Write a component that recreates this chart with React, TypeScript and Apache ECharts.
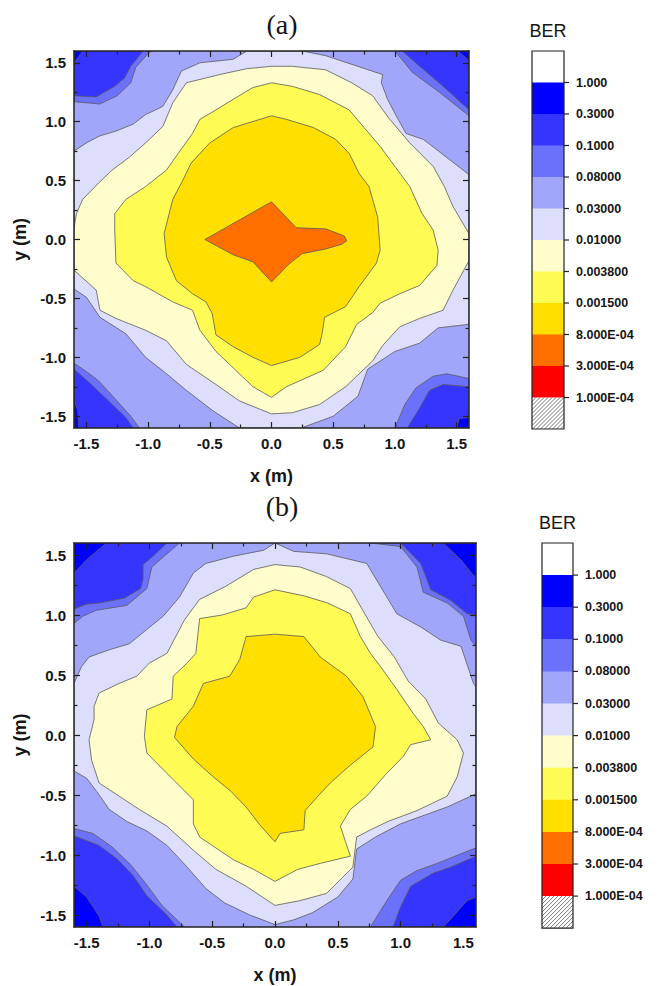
import React, { useEffect, useRef } from 'react';
import * as echarts from 'echarts';

// ---------- legend / levels ----------
const BER_LABELS = ['1.000', '0.3000', '0.1000', '0.08000', '0.03000', '0.01000', '0.003800', '0.001500', '8.000E-04', '3.000E-04', '1.000E-04'];
// band 0 = above 1.000 ... band 10 = 1e-4..3e-4, band 11 = below 1e-4 (hatched)
const BAND_COLORS = ['#ffffff', '#0000ff', '#3535ff', '#6c71fb', '#a2a6fb', '#dcdefb', '#fffdcb', '#fffb55', '#ffdf00', '#ff6f00', '#ff0000'];
const MAJOR_TICKS = [-1.5, -1, -0.5, 0, 0.5, 1, 1.5];
const MINOR_TICKS = [-1.25, -0.75, -0.25, 0.25, 0.75, 1.25];
const AXIS_MIN = -1.6;
const AXIS_MAX = 1.6;

// ---------- panel (a) contour regions (x m, y m) ----------
const A_TL_B3 = [[-1.6, 1.17], [-1.39, 1.15], [-1.25, 1.22], [-1.14, 1.33], [-1.1, 1.46], [-0.99, 1.59], [-0.96, 1.6], [-1.6, 1.6]];
const A_TL_B2 = [[-1.6, 1.22], [-1.42, 1.21], [-1.27, 1.3], [-1.19, 1.37], [-1.14, 1.47], [-1.04, 1.6], [-1.6, 1.6]];
const A_TL_B1 = [[-1.6, 1.5], [-1.53, 1.6], [-1.6, 1.6]];
const A_TR_B3 = [[1.0, 1.6], [1.14, 1.42], [1.36, 1.25], [1.6, 1.05], [1.6, 1.6]];
const A_TR_B2 = [[1.06, 1.6], [1.2, 1.47], [1.39, 1.3], [1.6, 1.1], [1.6, 1.6]];
const A_TR_B1 = [[1.51, 1.6], [1.6, 1.52], [1.6, 1.6]];
const A_BL_B3 = [[-1.6, -1.05], [-1.5, -1.12], [-1.4, -1.2], [-1.26, -1.36], [-1.14, -1.5], [-1.07, -1.6], [-1.6, -1.6]];
const A_BL_B2 = [[-1.6, -1.1], [-1.45, -1.24], [-1.29, -1.4], [-1.18, -1.51], [-1.12, -1.6], [-1.6, -1.6]];
const A_BL_B1 = [[-1.6, -1.37], [-1.57, -1.45], [-1.56, -1.6], [-1.6, -1.6]];
const A_BR_B3 = [[1.0, -1.6], [1.08, -1.4], [1.17, -1.26], [1.31, -1.16], [1.42, -1.14], [1.6, -1.18], [1.6, -1.6]];
const A_BR_B2 = [[1.1, -1.6], [1.2, -1.43], [1.28, -1.28], [1.39, -1.23], [1.6, -1.25], [1.6, -1.6]];
const A_BR_B1 = [[1.5, -1.6], [1.52, -1.52], [1.6, -1.51], [1.6, -1.6]];
const A_B5 = [
  [-0.2, 1.6], [0.25, 1.6], [0.44, 1.56], [0.9, 1.4], [0.89, 1.33], [0.94, 1.19], [1.01, 1.05], [1.09, 0.9], [1.23, 0.85], [1.44, 0.68], [1.6, 0.55],
  [1.6, -0.72], [1.35, -0.75], [1.2, -0.88], [1.0, -0.95], [0.78, -1.1], [0.7, -1.33], [0.5, -1.5], [0.24, -1.6],
  [-0.26, -1.6], [-0.48, -1.45], [-0.69, -1.28], [-0.85, -1.14], [-1.02, -1.0], [-1.18, -0.8], [-1.39, -0.66], [-1.5, -0.49], [-1.6, -0.42],
  [-1.6, 0.75], [-1.5, 0.82], [-1.39, 0.88], [-1.26, 0.92], [-1.12, 0.98], [-1.02, 1.06], [-0.88, 1.13], [-0.8, 1.27], [-0.73, 1.43], [-0.58, 1.5], [-0.31, 1.53],
];
const A_B6 = [
  [0, 1.47], [0.17, 1.47], [0.44, 1.44], [0.65, 1.33], [0.82, 1.22], [0.95, 1.03], [1.12, 0.82], [1.31, 0.62], [1.4, 0.45], [1.47, 0.28], [1.6, 0.05],
  [1.6, -0.18], [1.47, -0.43], [1.39, -0.6], [1.2, -0.67], [1.04, -0.74], [0.9, -0.9], [0.82, -1.03], [0.7, -1.15], [0.6, -1.25], [0.39, -1.4], [0.17, -1.47], [0, -1.48],
  [-0.26, -1.37], [-0.45, -1.23], [-0.69, -1.06], [-0.85, -0.86], [-1.02, -0.77], [-1.26, -0.67], [-1.39, -0.6], [-1.42, -0.43], [-1.6, -0.26],
  [-1.6, 0.1], [-1.58, 0.22], [-1.53, 0.34], [-1.4, 0.48], [-1.29, 0.59], [-1.15, 0.7], [-1.02, 0.82], [-0.88, 0.96], [-0.8, 1.16], [-0.69, 1.33], [-0.42, 1.4], [-0.2, 1.45],
];
const A_B7 = [
  [0, 1.33], [0.17, 1.3], [0.39, 1.23], [0.63, 1.1], [0.75, 0.95], [0.88, 0.79], [1.0, 0.62], [1.12, 0.45], [1.22, 0.22], [1.31, 0.08], [1.35, -0.09], [1.34, -0.22],
  [1.2, -0.39], [1.04, -0.46], [0.88, -0.54], [0.82, -0.62], [0.69, -0.72], [0.6, -0.91], [0.42, -1.11], [0.12, -1.25], [0, -1.34],
  [-0.15, -1.25], [-0.3, -1.1], [-0.45, -0.95], [-0.58, -0.77], [-0.64, -0.6], [-0.8, -0.53], [-1.02, -0.4], [-1.12, -0.35], [-1.26, -0.2],
  [-1.27, 0.08], [-1.27, 0.22], [-1.18, 0.34], [-1.02, 0.45], [-0.85, 0.59], [-0.77, 0.71], [-0.64, 0.9], [-0.58, 1.02], [-0.45, 1.1], [-0.31, 1.19], [-0.15, 1.29],
];
const A_B8 = [
  [0, 1.05], [0.12, 1.02], [0.34, 0.95], [0.52, 0.85], [0.63, 0.73], [0.71, 0.56], [0.79, 0.45], [0.86, 0.19], [0.88, -0.09], [0.85, -0.2], [0.71, -0.4], [0.6, -0.57],
  [0.43, -0.66], [0.41, -0.8], [0.39, -0.89], [0.23, -1.0], [0, -1.07], [-0.15, -1.0], [-0.31, -0.91], [-0.45, -0.81], [-0.48, -0.63], [-0.53, -0.53], [-0.64, -0.46],
  [-0.77, -0.35], [-0.85, -0.15], [-0.87, 0.05], [-0.8, 0.34], [-0.72, 0.5], [-0.65, 0.65], [-0.5, 0.82], [-0.31, 0.95],
];
const A_B9 = [
  [-0.54, 0], [-0.27, 0.16], [0, 0.32], [0.2, 0.1], [0.44, 0.09], [0.59, 0.03], [0.61, -0.01], [0.57, -0.04], [0.44, -0.08], [0.25, -0.12], [0.15, -0.2], [0, -0.36],
  [-0.15, -0.19], [-0.31, -0.13],
];

// ---------- panel (b) contour regions ----------
const B_TL_B3 = [[-1.6, 0.93], [-1.53, 0.99], [-1.42, 1.04], [-1.18, 1.08], [-1.02, 1.22], [-0.98, 1.4], [-0.86, 1.51], [-0.76, 1.6], [-1.6, 1.6]];
const B_TL_B2 = [[-1.6, 1.05], [-1.5, 1.09], [-1.4, 1.1], [-1.2, 1.14], [-1.07, 1.22], [-1.05, 1.3], [-1.05, 1.42], [-0.97, 1.49], [-0.86, 1.6], [-1.6, 1.6]];
const B_TL_B1 = [[-1.6, 1.35], [-1.5, 1.46], [-1.4, 1.55], [-1.34, 1.6], [-1.6, 1.6]];
const B_TR_B3 = [[0.76, 1.6], [1.0, 1.57], [1.13, 1.4], [1.18, 1.19], [1.37, 1.1], [1.5, 0.99], [1.56, 0.79], [1.6, 0.74], [1.6, 1.6]];
const B_TR_B2 = [[1.0, 1.6], [1.16, 1.43], [1.24, 1.21], [1.4, 1.12], [1.53, 1.01], [1.6, 1.0], [1.6, 1.6]];
const B_TR_B1 = [[1.34, 1.6], [1.48, 1.46], [1.58, 1.33], [1.6, 1.32], [1.6, 1.6]];
const B_BL_B3 = [[-1.6, -0.78], [-1.45, -0.82], [-1.3, -0.93], [-1.15, -1.08], [-1.02, -1.25], [-0.9, -1.42], [-0.72, -1.6], [-1.6, -1.6]];
const B_BL_B2 = [[-1.6, -0.84], [-1.4, -0.92], [-1.26, -1.03], [-1.13, -1.17], [-1.02, -1.34], [-0.86, -1.5], [-0.78, -1.6], [-1.6, -1.6]];
const B_BL_B1 = [[-1.6, -1.26], [-1.5, -1.35], [-1.4, -1.51], [-1.37, -1.6], [-1.6, -1.6]];
const B_BR_B3 = [[0.76, -1.6], [0.89, -1.38], [1.0, -1.21], [1.13, -1.13], [1.29, -1.07], [1.48, -0.99], [1.6, -0.94], [1.6, -1.6]];
const B_BR_B2 = [[0.94, -1.6], [1.0, -1.43], [1.08, -1.26], [1.26, -1.15], [1.4, -1.1], [1.6, -1.01], [1.6, -1.6]];
const B_BR_B1 = [[1.34, -1.6], [1.42, -1.51], [1.53, -1.38], [1.6, -1.35], [1.6, -1.6]];
const B_B5 = [
  [0, 1.6], [0.15, 1.53], [0.41, 1.51], [0.73, 1.43], [0.81, 1.29], [0.97, 1.01], [1.16, 0.9], [1.32, 0.79], [1.48, 0.74], [1.58, 0.43], [1.6, 0.4],
  [1.6, -0.49], [1.37, -0.6], [1.0, -0.74], [0.8, -0.85], [0.65, -0.95], [0.62, -1.2], [0.5, -1.35], [0.3, -1.48], [0.15, -1.54], [0, -1.58],
  [-0.2, -1.5], [-0.4, -1.4], [-0.55, -1.28], [-0.7, -1.1], [-0.86, -0.92], [-1.02, -0.8], [-1.18, -0.72], [-1.32, -0.62], [-1.42, -0.47], [-1.5, -0.36], [-1.6, -0.3],
  [-1.6, 0.43], [-1.54, 0.57], [-1.48, 0.65], [-1.32, 0.71], [-1.16, 0.76], [-1.02, 0.88], [-0.89, 0.99], [-0.76, 1.15], [-0.65, 1.35], [-0.55, 1.43], [-0.33, 1.49], [-0.09, 1.54],
];
const B_B6 = [
  [0, 1.42], [0.2, 1.4], [0.41, 1.32], [0.6, 1.22], [0.72, 1.0], [0.82, 0.82], [0.95, 0.65], [1.06, 0.45], [1.2, 0.3], [1.3, 0.1], [1.45, -0.04], [1.5, -0.15],
  [1.45, -0.35], [1.37, -0.51], [1.13, -0.63], [0.9, -0.72], [0.76, -0.79], [0.65, -0.85], [0.62, -1.1], [0.41, -1.32], [0.2, -1.38], [0, -1.42],
  [-0.23, -1.26], [-0.47, -1.12], [-0.65, -0.96], [-0.86, -0.76], [-1.08, -0.62], [-1.24, -0.51], [-1.4, -0.4], [-1.46, -0.21], [-1.48, -0.04],
  [-1.44, 0.13], [-1.44, 0.24], [-1.4, 0.35], [-1.24, 0.43], [-1.1, 0.49], [-1.0, 0.6], [-0.86, 0.68], [-0.72, 0.96], [-0.6, 1.13], [-0.39, 1.24], [-0.17, 1.38],
];
const B_B7 = [
  [0, 1.21], [0.23, 1.16], [0.42, 1.1], [0.6, 1.01], [0.68, 0.82], [0.76, 0.68], [0.84, 0.57], [0.97, 0.38], [1.1, 0.18], [1.18, 0.07], [1.24, -0.04], [1.08, -0.08],
  [1.02, -0.18], [0.88, -0.33], [0.73, -0.51], [0.6, -0.62], [0.52, -0.76], [0.6, -1.01], [0.36, -1.07], [0.18, -1.12], [0, -1.22],
  [-0.17, -1.12], [-0.33, -1.04], [-0.6, -0.85], [-0.65, -0.74], [-0.65, -0.54], [-0.86, -0.32], [-1.02, -0.15], [-1.04, -0.01], [-1.02, 0.21], [-0.82, 0.3],
  [-0.81, 0.49], [-0.7, 0.6], [-0.63, 0.68], [-0.6, 0.97], [-0.42, 1.0], [-0.23, 1.06], [-0.17, 1.15],
];
const B_B8 = [
  [0, 0.84], [0.23, 0.82], [0.36, 0.65], [0.57, 0.49], [0.7, 0.32], [0.8, 0.07], [0.78, -0.1], [0.6, -0.25], [0.44, -0.4], [0.35, -0.5], [0.24, -0.63], [0.23, -0.79],
  [0.04, -0.82], [0, -0.89], [-0.12, -0.75], [-0.23, -0.6], [-0.35, -0.47], [-0.49, -0.35], [-0.65, -0.2], [-0.8, -0.02], [-0.78, 0.07], [-0.65, 0.24], [-0.57, 0.43],
  [-0.36, 0.49], [-0.28, 0.63], [-0.23, 0.82],
];

const PANEL_A = [
  { band: 3, pts: A_TL_B3 }, { band: 2, pts: A_TL_B2 }, { band: 1, pts: A_TL_B1 },
  { band: 3, pts: A_TR_B3 }, { band: 2, pts: A_TR_B2 }, { band: 1, pts: A_TR_B1 },
  { band: 3, pts: A_BL_B3 }, { band: 2, pts: A_BL_B2 }, { band: 1, pts: A_BL_B1 },
  { band: 3, pts: A_BR_B3 }, { band: 2, pts: A_BR_B2 }, { band: 1, pts: A_BR_B1 },
  { band: 5, pts: A_B5 }, { band: 6, pts: A_B6 }, { band: 7, pts: A_B7 }, { band: 8, pts: A_B8 }, { band: 9, pts: A_B9 },
];
const PANEL_B = [
  { band: 3, pts: B_TL_B3 }, { band: 2, pts: B_TL_B2 }, { band: 1, pts: B_TL_B1 },
  { band: 3, pts: B_TR_B3 }, { band: 2, pts: B_TR_B2 }, { band: 1, pts: B_TR_B1 },
  { band: 3, pts: B_BL_B3 }, { band: 2, pts: B_BL_B2 }, { band: 1, pts: B_BL_B1 },
  { band: 3, pts: B_BR_B3 }, { band: 2, pts: B_BR_B2 }, { band: 1, pts: B_BR_B1 },
  { band: 5, pts: B_B5 }, { band: 6, pts: B_B6 }, { band: 7, pts: B_B7 }, { band: 8, pts: B_B8 },
];
const BASE_BAND = 4;

// ---------- layout ----------
const GRIDS = [
  { left: 74, top: 51, width: 395, height: 377 },
  { left: 74, top: 543, width: 402, height: 384 },
];
const BARS = [
  { left: 532, top: 51, w: 32, h: 31.5, title: '(a)', titleX: 282, titleY: 24 },
  { left: 542, top: 543, w: 31, h: 32.1, title: '(b)', titleX: 282, titleY: 506 },
];

const SANS = 'Liberation Sans, Arial, sans-serif';
const INK = '#151515';

function axesFor(g: number) {
  const base = { type: 'value', gridIndex: g, min: AXIS_MIN, max: AXIS_MAX, splitLine: { show: false }, z: 5 };
  const line = { show: true, onZero: false, lineStyle: { color: '#222', width: 1.5 } };
  const noLine = { show: false, onZero: false };
  const major = { show: true, inside: true, length: 6, customValues: MAJOR_TICKS, lineStyle: { color: '#222', width: 1.2 } };
  const minor = { show: true, inside: true, length: 3.5, customValues: MINOR_TICKS, lineStyle: { color: '#222', width: 1.2 } };
  const label = {
    show: true, customValues: MAJOR_TICKS, margin: 8, color: INK, fontFamily: SANS, fontWeight: 'bold', fontSize: 15,
    formatter: (v: number) => Number(v).toFixed(1),
  };
  const nameStyle = { fontFamily: SANS, fontWeight: 'bold', fontSize: 18, color: INK };
  const xs = [
    { ...base, position: 'bottom', axisLine: line, axisTick: major, axisLabel: label, name: 'x (m)', nameLocation: 'middle', nameGap: 39, nameTextStyle: nameStyle },
    { ...base, position: 'bottom', axisLine: noLine, axisTick: minor, axisLabel: { show: false } },
    { ...base, position: 'top', axisLine: line, axisTick: major, axisLabel: { show: false } },
    { ...base, position: 'top', axisLine: noLine, axisTick: minor, axisLabel: { show: false } },
  ];
  const ys = [
    { ...base, position: 'left', axisLine: line, axisTick: major, axisLabel: label, name: 'y (m)', nameLocation: 'middle', nameGap: 40, nameTextStyle: nameStyle },
    { ...base, position: 'left', axisLine: noLine, axisTick: minor, axisLabel: { show: false } },
    { ...base, position: 'right', axisLine: line, axisTick: major, axisLabel: { show: false } },
    { ...base, position: 'right', axisLine: noLine, axisTick: minor, axisLabel: { show: false } },
  ];
  return { xs, ys };
}

function contourSeries(regions: { band: number; pts: number[][] }[], axisIndex: number) {
  return {
    type: 'custom',
    coordinateSystem: 'cartesian2d',
    xAxisIndex: axisIndex,
    yAxisIndex: axisIndex,
    silent: true,
    clip: true,
    z: 2,
    data: regions.map(() => [0, 0]),
    renderItem: (params: any, api: any) => {
      const r = regions[params.dataIndex];
      return {
        type: 'polygon',
        z2: params.dataIndex,
        shape: { points: r.pts.map((p) => api.coord(p)) },
        style: { fill: BAND_COLORS[r.band], stroke: '#5a5a5a', lineWidth: 0.8 },
      };
    },
  };
}

function colorbarElements(bar: (typeof BARS)[number]) {
  const els: any[] = [];
  const { left, top, w, h } = bar;
  for (let i = 0; i < 11; i++) {
    els.push({ type: 'rect', shape: { x: left, y: top + i * h, width: w, height: h + 0.5 }, style: { fill: BAND_COLORS[i] } });
  }
  const hy = top + 11 * h;
  els.push({ type: 'rect', shape: { x: left, y: hy, width: w, height: h }, style: { fill: '#ffffff' } });
  const step = 4;
  for (let c = step; c < w + h; c += step) {
    const x1 = Math.max(0, c - h);
    const y1 = Math.min(h, c);
    const x2 = Math.min(w, c);
    const y2 = Math.max(0, c - w);
    els.push({ type: 'line', shape: { x1: left + x1, y1: hy + y1, x2: left + x2, y2: hy + y2 }, style: { stroke: '#555', lineWidth: 0.8 } });
  }
  els.push({ type: 'rect', shape: { x: left, y: top, width: w, height: 12 * h }, style: { fill: 'none', stroke: '#222', lineWidth: 1.2 } });
  BER_LABELS.forEach((lab, k) => {
    const y = top + (k + 1) * h;
    els.push({ type: 'line', shape: { x1: left + w, y1: y, x2: left + w + 5, y2: y }, style: { stroke: '#222', lineWidth: 1.2 } });
    els.push({
      type: 'text', x: left + w + 12, y,
      style: { text: lab, fill: INK, font: `bold 12.5px ${SANS}`, textAlign: 'left', textVerticalAlign: 'middle', align: 'left', verticalAlign: 'middle' },
    });
  });
  els.push({
    type: 'text', x: left + w / 2, y: top - 20,
    style: { text: 'BER', fill: INK, font: `18px ${SANS}`, textAlign: 'center', textVerticalAlign: 'middle', align: 'center', verticalAlign: 'middle' },
  });
  els.push({
    type: 'text', x: bar.titleX, y: bar.titleY,
    style: { text: bar.title, fill: INK, font: `28px Liberation Serif, Times New Roman, serif`, textAlign: 'center', textVerticalAlign: 'middle', align: 'center', verticalAlign: 'middle' },
  });
  return els;
}

export default function App() {
  const ref = useRef<HTMLDivElement>(null);
  useEffect(() => {
    if (!ref.current) return;
    const chart = echarts.init(ref.current, undefined, { renderer: 'svg' });
    const a = axesFor(0);
    const b = axesFor(1);
    const option: any = {
      animation: false,
      backgroundColor: '#ffffff',
      grid: GRIDS.map((g) => ({ ...g, show: true, backgroundColor: BAND_COLORS[BASE_BAND], borderWidth: 0, containLabel: false })),
      xAxis: [...a.xs, ...b.xs],
      yAxis: [...a.ys, ...b.ys],
      series: [contourSeries(PANEL_A, 0), contourSeries(PANEL_B, 4)],
      graphic: { elements: [...colorbarElements(BARS[0]), ...colorbarElements(BARS[1])] },
    };
    chart.setOption(option);
    return () => chart.dispose();
  }, []);
  return <div ref={ref} style={{ position: 'absolute', left: 0, top: 0, width: 658, height: 986 }} />;
}
